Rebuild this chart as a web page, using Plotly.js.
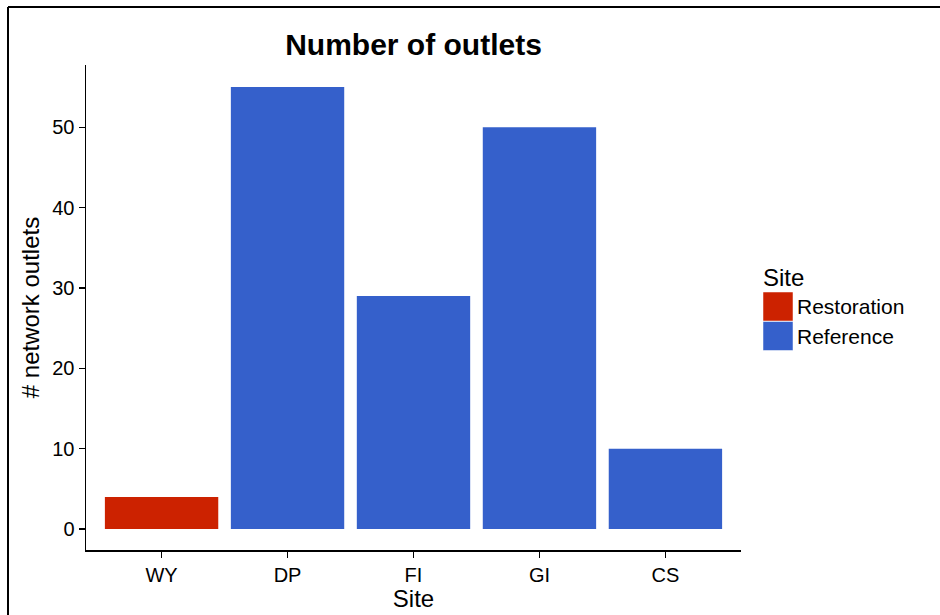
<!DOCTYPE html>
<html>
<head>
<meta charset="utf-8">
<script src="https://cdn.plot.ly/plotly-3.0.1.min.js"></script>
<style>html,body{margin:0;padding:0;background:#fff;}#chart{width:940px;height:615px;}</style>
</head>
<body>
<div id="chart"></div>
<script>
// Data
const sites = ['WY', 'DP', 'FI', 'GI', 'CS'];
const outlets = [4, 55, 29, 50, 10];
const siteGroup = ['Restoration', 'Reference', 'Reference', 'Reference', 'Reference'];
const groups = ['Restoration', 'Reference'];
const groupColors = {Restoration: '#CC2200', Reference: '#3560CB'};
const yTicks = [0, 10, 20, 30, 40, 50];

// layout geometry (pixels)
const W = 940, H = 615;
const M = {l: 86, r: 199, t: 65, b: 65};
const pw = W - M.l - M.r, ph = H - M.t - M.b;
const px = x => (x - M.l) / pw;
const py = y => (H - M.b - y) / ph;

const font = 'Liberation Sans, Arial, Helvetica, sans-serif';

const traces = groups.map(g => {
  const xs = [], ys = [];
  sites.forEach((s, i) => { if (siteGroup[i] === g) { xs.push(s); ys.push(outlets[i]); } });
  return {
    type: 'bar', name: g, x: xs, y: ys, width: 0.9,
    marker: {color: groupColors[g], line: {width: 0}},
    showlegend: false, hoverinfo: 'x+y'
  };
});

const shapes = [
  // outer frame (left and top edges visible)
  {type: 'line', xref: 'paper', yref: 'paper', x0: px(8), x1: px(8), y0: py(7), y1: py(620), line: {color: '#000', width: 2}},
  {type: 'line', xref: 'paper', yref: 'paper', x0: px(8), x1: px(945), y0: py(7), y1: py(7), line: {color: '#000', width: 2}}
];
const annotations = [
  {xref: 'paper', yref: 'paper', x: px(761), y: py(277), text: 'Site', showarrow: false, xanchor: 'left', yanchor: 'middle', font: {family: font, size: 24, color: '#000'}}
];
groups.forEach((g, i) => {
  const top = 292 + i * 29.5;
  shapes.push({type: 'rect', xref: 'paper', yref: 'paper', x0: px(763), x1: px(793), y0: py(top + 29), y1: py(top), fillcolor: groupColors[g], line: {color: '#ffffff', width: 0.5}});
  annotations.push({xref: 'paper', yref: 'paper', x: px(795), y: py(top + 14.5), text: g, showarrow: false, xanchor: 'left', yanchor: 'middle', font: {family: font, size: 21, color: '#000'}});
});

const layout = {
  width: W, height: H,
  margin: M,
  paper_bgcolor: '#fff', plot_bgcolor: '#fff',
  font: {family: font, color: '#000'},
  title: {text: '<b>Number of outlets</b>', x: 0.5, xref: 'paper', y: 1 - 44 / H, yref: 'container', xanchor: 'center', yanchor: 'middle', font: {family: font, size: 30, color: '#000'}},
  barmode: 'overlay',
  xaxis: {
    type: 'category', categoryorder: 'array', categoryarray: sites,
    range: [-0.6, 4.6], showgrid: false, zeroline: false,
    showline: true, linecolor: '#000', linewidth: 1.5,
    ticks: 'outside', ticklen: 6, tickwidth: 1.5, tickcolor: '#000',
    tickfont: {family: font, size: 20, color: '#000'},
    title: {text: 'Site', font: {family: font, size: 24, color: '#000'}, standoff: 4},
    automargin: false
  },
  yaxis: {
    range: [-2.6, 57.75], tickvals: yTicks, ticktext: yTicks.map(String),
    showgrid: false, zeroline: false,
    showline: true, linecolor: '#000', linewidth: 1.5,
    ticks: 'outside', ticklen: 6, tickwidth: 1.5, tickcolor: '#000',
    tickfont: {family: font, size: 20, color: '#000'},
    title: {text: '# network outlets', font: {family: font, size: 24, color: '#000'}, standoff: 6},
    automargin: false
  },
  shapes: shapes,
  annotations: annotations,
  showlegend: false
};

Plotly.newPlot('chart', traces, layout, {displayModeBar: false, staticPlot: true});
</script>
</body>
</html>
